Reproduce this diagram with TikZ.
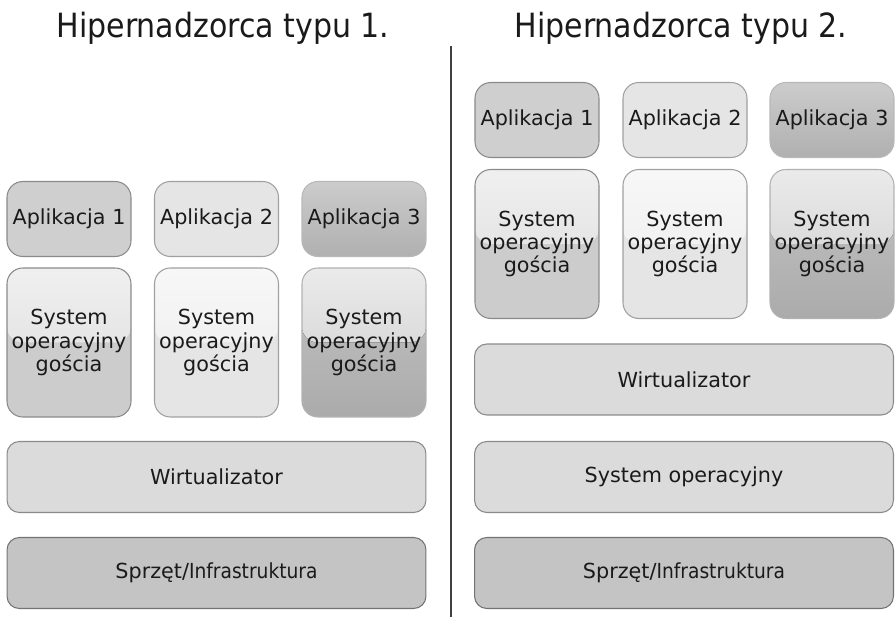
\documentclass[tikz,border=0pt]{standalone}
\usepackage{fontspec}
\setmainfont{DejaVu Sans}
\newfontfamily\condfont{DejaVu Sans Condensed}
\definecolor{bordA}{HTML}{8A8A8A}
\definecolor{bordB}{HTML}{A0A0A0}
\definecolor{txt}{HTML}{1A1A1A}
\tikzset{
  base/.style={rounded corners=9pt, line width=0.6pt, align=center, text=txt,
    font=\fontsize{11.8pt}{13.3pt}\selectfont, inner sep=0pt},
  apl/.style={base, minimum width=2.48cm, minimum height=1.5cm},
  sog/.style={base, minimum width=2.48cm, minimum height=2.98cm},
  wide/.style={base, rounded corners=7pt, minimum width=8.38cm, minimum height=1.42cm},
  gloss/.style 2 args={path picture={\fill[top color=#1, bottom color=#2]
     (path picture bounding box.north west) rectangle (path picture bounding box.east);}},
  title/.style={font=\condfont\fontsize{19pt}{22pt}\selectfont, text=txt, inner sep=0pt},
  divider/.style={draw=black!75, line width=0.9pt}
}
\begin{document}
\begin{tikzpicture}[x=0.02cm, y=-0.02cm]
\useasboundingbox (0,0) rectangle (895,617);
% titles
\node[title] (t1) at (223,28) {Hipernadzorca typu 1.};
\node[title] (t2) at (681,28) {Hipernadzorca typu 2.};
\coordinate (dtop) at (451,46);
\coordinate (dbot) at (451,617);
\draw[divider] (dtop) -- (dbot);
% ---- left column ----
\node[apl, fill=black!19, draw=bordA] (la1) at (69,219) {Aplikacja 1};
\node[apl, fill=black!10, draw=bordB] (la2) at (216.5,219) {Aplikacja 2};
\node[apl, top color=black!20, bottom color=black!31, draw=black!28] (la3) at (364,219) {Aplikacja 3};
\node[sog, fill=black!20, draw=bordA, gloss={black!6}{black!14}] (ls1) at (69,342.5) {System\\operacyjny\\gościa};
\node[sog, fill=black!10, draw=bordB, gloss={black!3}{black!8}] (ls2) at (216.5,342.5) {System\\operacyjny\\gościa};
\node[sog, top color=black!23, bottom color=black!33, draw=black!30, gloss={black!8}{black!20}] (ls3) at (364,342.5) {System\\operacyjny\\gościa};
\node[wide, fill=black!14, draw=bordA] (lw) at (216.5,477) {Wirtualizator};
\node[wide, fill=black!23, draw=black!55] (lh) at (216.5,573) {Sprzęt/{\condfont Infrastruktura}};
% ---- right column ----
\node[apl, fill=black!19, draw=bordA] (ra1) at (537,120) {Aplikacja 1};
\node[apl, fill=black!10, draw=bordB] (ra2) at (685,120) {Aplikacja 2};
\node[apl, top color=black!20, bottom color=black!31, draw=black!28] (ra3) at (832,120) {Aplikacja 3};
\node[sog, fill=black!20, draw=bordA, gloss={black!6}{black!14}] (rs1) at (537,244) {System\\operacyjny\\gościa};
\node[sog, fill=black!10, draw=bordB, gloss={black!3}{black!8}] (rs2) at (685,244) {System\\operacyjny\\gościa};
\node[sog, top color=black!23, bottom color=black!33, draw=black!30, gloss={black!8}{black!20}] (rs3) at (832,244) {System\\operacyjny\\gościa};
\node[wide, fill=black!14, draw=bordA] (rw) at (684,379.5) {Wirtualizator};
\node[wide, fill=black!14, draw=bordA] (ro) at (684,477) {System operacyjny};
\node[wide, fill=black!23, draw=black!55] (rh) at (684,573) {Sprzęt/{\condfont Infrastruktura}};
\end{tikzpicture}
\end{document}
